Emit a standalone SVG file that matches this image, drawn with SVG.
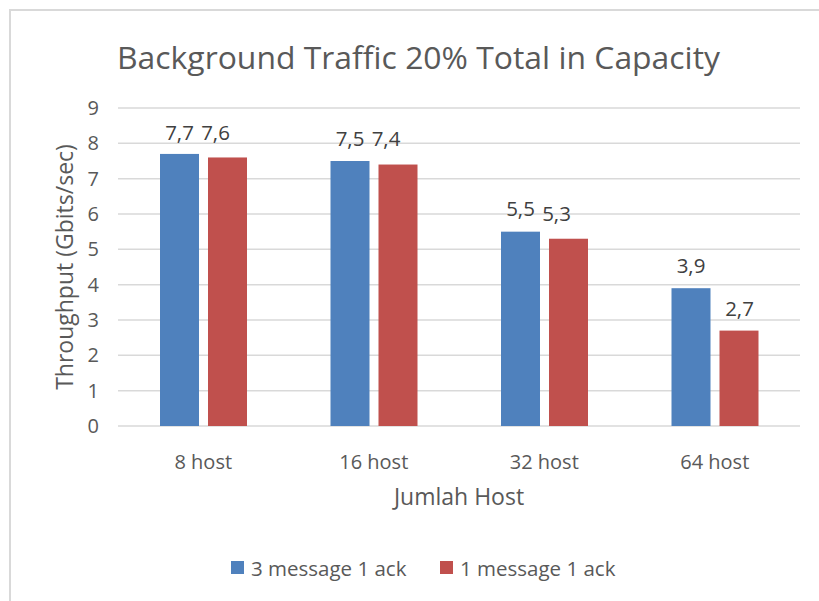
<svg xmlns="http://www.w3.org/2000/svg" width="819" height="601" viewBox="0 0 819 601">
<style>
text{font-family:"Open Sans","Liberation Sans",sans-serif;fill:#595959}
.grid{stroke:#d9d9d9;stroke-width:1.5}
.tick{font-size:20px;text-anchor:end}
.cat{font-size:20px;text-anchor:middle}
.val{font-size:20.5px;text-anchor:middle;fill:#404040}
.axt{font-size:23px;text-anchor:middle}
.leg{font-size:20.5px}
.blue{fill:#4f81bd}
.red{fill:#c0504d}
</style>
<rect x="0" y="0" width="819" height="601" fill="#ffffff"/>
<path d="M10,601 V10 H819" fill="none" stroke="#d9d9d9" stroke-width="2"/>
<text x="117" y="69" font-size="31" textLength="603" lengthAdjust="spacingAndGlyphs">Background Traffic 20% Total in Capacity</text>
<g id="gridlines">
<line class="grid" x1="118" y1="426" x2="800" y2="426"/>
<line class="grid" x1="118" y1="390.67" x2="800" y2="390.67"/>
<line class="grid" x1="118" y1="355.33" x2="800" y2="355.33"/>
<line class="grid" x1="118" y1="320" x2="800" y2="320"/>
<line class="grid" x1="118" y1="284.67" x2="800" y2="284.67"/>
<line class="grid" x1="118" y1="249.33" x2="800" y2="249.33"/>
<line class="grid" x1="118" y1="214" x2="800" y2="214"/>
<line class="grid" x1="118" y1="178.67" x2="800" y2="178.67"/>
<line class="grid" x1="118" y1="143.33" x2="800" y2="143.33"/>
<line class="grid" x1="118" y1="108" x2="800" y2="108"/>
</g>
<g id="y-axis">
<text class="tick" x="99" y="433">0</text>
<text class="tick" x="99" y="397.67">1</text>
<text class="tick" x="99" y="362.33">2</text>
<text class="tick" x="99" y="327">3</text>
<text class="tick" x="99" y="291.67">4</text>
<text class="tick" x="99" y="256.33">5</text>
<text class="tick" x="99" y="221">6</text>
<text class="tick" x="99" y="185.67">7</text>
<text class="tick" x="99" y="150.33">8</text>
<text class="tick" x="99" y="115">9</text>
<text class="axt" x="0" y="0" transform="translate(73,267) rotate(-90)">Throughput (Gbits/sec)</text>
</g>
<g id="host8">
<rect class="blue" x="160" y="153.93" width="39" height="272.07"/>
<rect class="red" x="208" y="157.47" width="39" height="268.53"/>
<text class="val" x="179.5" y="140">7,7</text>
<text class="val" x="215.5" y="140">7,6</text>
<text class="cat" x="203.25" y="469">8 host</text>
</g>
<g id="host16">
<rect class="blue" x="330.5" y="161" width="39" height="265"/>
<rect class="red" x="378.5" y="164.53" width="39" height="261.47"/>
<text class="val" x="350" y="146">7,5</text>
<text class="val" x="386" y="146">7,4</text>
<text class="cat" x="373.75" y="469">16 host</text>
</g>
<g id="host32">
<rect class="blue" x="501" y="231.67" width="39" height="194.33"/>
<rect class="red" x="549" y="238.73" width="39" height="187.27"/>
<text class="val" x="520.5" y="215.5">5,5</text>
<text class="val" x="556.5" y="221">5,3</text>
<text class="cat" x="544.25" y="469">32 host</text>
</g>
<g id="host64">
<rect class="blue" x="671.5" y="288.2" width="39" height="137.8"/>
<rect class="red" x="719.5" y="330.6" width="39" height="95.4"/>
<text class="val" x="691" y="273">3,9</text>
<text class="val" x="739.5" y="315.5">2,7</text>
<text class="cat" x="714.75" y="469">64 host</text>
</g>
<text class="axt" x="459" y="505">Jumlah Host</text>
<g id="legend">
<rect class="blue" x="231" y="561" width="13" height="13"/>
<text class="leg" x="251" y="576">3 message 1 ack</text>
<rect class="red" x="440" y="561" width="13" height="13"/>
<text class="leg" x="460" y="576">1 message 1 ack</text>
</g>
</svg>
